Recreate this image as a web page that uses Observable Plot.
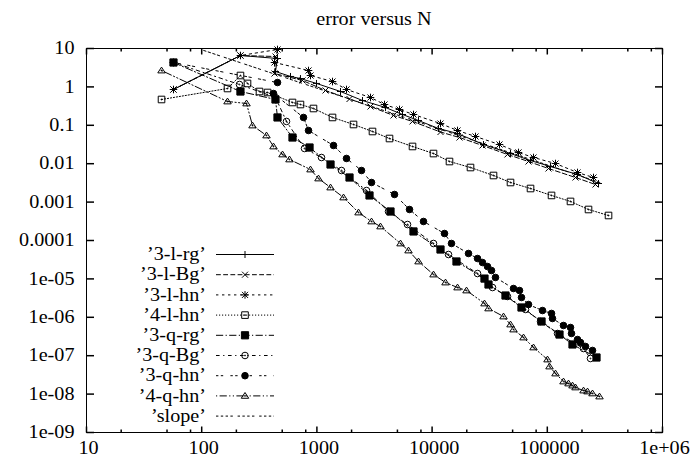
<!DOCTYPE html>
<html>
<head>
<meta charset="utf-8">
<script src="https://cdn.jsdelivr.net/npm/d3@7"></script>
<script src="https://cdn.jsdelivr.net/npm/@observablehq/plot@0.6"></script>
<style>
html,body{margin:0;padding:0;background:#fff;}
#chart svg{display:block;}
</style>
</head>
<body>
<div id="chart"></div>
<script>
// ---------------- data ----------------
const titleText = "error versus N";
const seriesNames = ["3-l-rg","3-l-Bg","3-l-hn","4-l-hn","3-q-rg","3-q-Bg","3-q-hn","4-q-hn","slope"];

const N_3lrg = [56.9, 217, 455, 437, 590, 720, 992, 1603, 2488, 3940, 5535, 7621, 11366, 16616, 27940, 47930, 71500, 106600, 182900, 278300];
const E_3lrg = [0.856, 6.57, 5.49, 2.52, 1.87, 1.65, 1.23, 0.759, 0.442, 0.291, 0.191, 0.133, 0.0825, 0.0612, 0.0316, 0.0184, 0.0121, 0.00845, 0.00523, 0.00305];

const N_3lBg = [56.9, 217, 437, 428.5, 750, 1188, 1919, 2920, 4623, 6760, 11828, 17288, 27380, 45120, 68680, 102400, 175700, 262100];
const E_3lBg = [0.856, 6.57, 6.19, 2.23, 1.47, 0.806, 0.484, 0.309, 0.180, 0.126, 0.0669, 0.0481, 0.0298, 0.0174, 0.0114, 0.0075, 0.00437, 0.00287];

const N_3lhn = [56.9, 217, 455, 428.5, 845.6, 880, 1366, 1807, 2920, 3862, 5212, 6896, 11828, 16616, 23810, 38470, 56230, 75890, 117800, 182900, 251800];
const E_3lhn = [0.856, 6.57, 9.42, 4.32, 2.67, 1.98, 1.38, 0.856, 0.530, 0.348, 0.258, 0.191, 0.111, 0.0732, 0.0511, 0.0316, 0.0196, 0.0145, 0.0101, 0.0059, 0.00437];

const N_4lhn = [44.8, 167.5, 217, 249.8, 317.5, 373, 614, 720, 934, 1366, 2079, 3038, 4268, 6760, 10285, 14158, 21544, 34120, 47930, 71500, 108800, 159000, 227900, 340000];
const E_4lhn = [0.470, 0.909, 1.98, 1.23, 0.759, 0.715, 0.393, 0.348, 0.274, 0.160, 0.105, 0.0690, 0.0453, 0.0281, 0.0184, 0.0114, 0.00796, 0.00493, 0.00324, 0.00226, 0.00149, 0.00104, 0.000642, 0.000448];

const N_3qrg = [56.9, 217, 437, 455, 614, 863, 1313, 1919, 2862, 4354, 6896, 11828, 16285, 28500, 30870, 43370, 59710, 89100, 127600, 165500, 267400];
const E_3qrg = [4.32, 0.759, 0.470, 0.160, 0.0481, 0.0264, 0.00953, 0.00437, 0.00149, 0.000569, 0.000172, 5.83e-5, 2.84e-5, 1.02e-5, 7.15e-6, 3.69e-6, 1.80e-6, 7.78e-7, 3.56e-7, 1.96e-7, 8.98e-8];

const N_3qBg = [56.9, 212.8, 437, 544.6, 780.6, 1096, 1635, 2696, 4183, 6117, 10285, 13880, 24790, 33450, 45120, 64700, 87340, 122600, 206200, 237100];
const E_3qBg = [4.32, 1.155, 0.530, 0.126, 0.0249, 0.0145, 0.00665, 0.002, 0.000569, 0.000261, 8.36e-5, 4.32e-5, 1.38e-5, 5.97e-6, 3.48e-6, 1.60e-6, 7.78e-7, 3.79e-7, 1.54e-7, 8.46e-8];

const N_3qhn = [56.9, 455, 420, 765, 846, 1394, 1807, 2439, 2979, 4717, 6366, 8420, 12812, 14734, 20700, 24790, 27380, 30260, 32780, 35500, 50880, 57370, 59710, 68680, 90860, 108800, 110900, 138200, 159000, 162200, 182900, 194200, 214600, 246800];
const E_3qhn = [4.32, 1.30, 0.673, 0.160, 0.0732, 0.0298, 0.0137, 0.00665, 0.00324, 0.00158, 0.000642, 0.000313, 0.000152, 8.36e-5, 4.59e-5, 3.40e-5, 2.67e-5, 2.10e-5, 1.65e-5, 1.09e-5, 5.62e-6, 4.99e-6, 3.28e-6, 2.15e-6, 1.50e-6, 1.26e-6, 9.31e-7, 6.12e-7, 5.43e-7, 3.79e-7, 2.64e-7, 2.21e-7, 1.74e-7, 1.37e-7];

const N_4qhn = [44.8, 167.5, 244.9, 276, 365, 420, 503, 578, 880, 1032, 1313, 1702, 2297, 2979, 3564, 5318, 6240, 7621, 10285, 13072, 16616, 19890, 28500, 30870, 41670, 47930, 50880, 62150, 75890, 100400, 104500, 117800, 138200, 152800, 165500, 175700, 206200, 223400, 246800, 283900];
const E_4qhn = [2.67, 0.417, 0.370, 0.0988, 0.0543, 0.0281, 0.0174, 0.0129, 0.00706, 0.00412, 0.0024, 0.00132, 0.000536, 0.000313, 0.000232, 8.36e-5, 5.49e-5, 2.84e-5, 1.30e-5, 8.06e-6, 5.97e-6, 4.99e-6, 2.29e-6, 1.70e-6, 1.05e-6, 6.49e-7, 4.81e-7, 2.98e-7, 1.64e-7, 7.96e-8, 5.23e-8, 3.44e-8, 2.13e-8, 1.89e-8, 1.67e-8, 1.49e-8, 1.24e-8, 1.17e-8, 1.04e-8, 8.66e-9];

const N_slope = [104, 290000];
const E_slope = [8.9, 0.0032];

const xTickValues = [10, 100, 1000, 10000, 100000, 1000000];
const xTickLabels = ["10", "100", "1000", "10000", "100000", "1e+06"];
const xMinorTicks = [20, 50, 80, 200, 500, 800, 2000, 5000, 8000, 20000, 50000, 80000, 200000, 500000, 800000];
const yTickValues = [1e-9, 1e-8, 1e-7, 1e-6, 1e-5, 1e-4, 1e-3, 1e-2, 1e-1, 1, 10];
const yTickLabels = ["1e-09", "1e-08", "1e-07", "1e-06", "1e-05", "0.0001", "0.001", "0.01", "0.1", "1", "10"];

// ---------------- styling ----------------
const W = 695, H = 468;
const FONT = "'Liberation Serif', 'Times New Roman', Times, serif";
const FS = 18;      // font size
const SX = 1.12;    // horizontal stretch of the text (reference text is slightly wide)

const mk = f => ({draw(c, size) { f(c, Math.sqrt(size / Math.PI)); }});
const centerDot = c => { c.moveTo(0.5, 0); c.arc(0, 0, 0.5, 0, 2 * Math.PI); };
const symPlus = mk((c, r) => { c.moveTo(-r, 0); c.lineTo(r, 0); c.moveTo(0, -r); c.lineTo(0, r); });
const symTimes = mk((c, r) => { c.moveTo(-r, -r); c.lineTo(r, r); c.moveTo(-r, r); c.lineTo(r, -r); });
const symStar = mk((c, r) => {
  c.moveTo(-r, 0); c.lineTo(r, 0); c.moveTo(0, -r); c.lineTo(0, r);
  const q = r * 0.8; c.moveTo(-q, -q); c.lineTo(q, q); c.moveTo(-q, q); c.lineTo(q, -q);
});
const symBox = mk((c, r) => { c.rect(-r, -r, 2 * r, 2 * r); centerDot(c); });
const symBoxF = mk((c, r) => { c.rect(-r, -r, 2 * r, 2 * r); });
const symCirc = mk((c, r) => { c.moveTo(r, 0); c.arc(0, 0, r, 0, 2 * Math.PI); centerDot(c); });
const symCircF = mk((c, r) => { c.moveTo(r, 0); c.arc(0, 0, r, 0, 2 * Math.PI); });
const symTri = mk((c, r) => { c.moveTo(0, -r); c.lineTo(r * 1.1, r * 0.7); c.lineTo(-r * 1.1, r * 0.7); c.closePath(); centerDot(c); });

const tickSym = (dx, dy) => ({draw(c) { c.moveTo(0, 0); c.lineTo(dx, dy); }});

const dl = 1.2;
const dash = a => a ? a.map(v => v * dl).join(",") : null;

const seriesData = [
  {N: N_3lrg, E: E_3lrg, dash: null,                    sym: symPlus,  r: 3.5, fill: "none"},
  {N: N_3lBg, E: E_3lBg, dash: dash([4, 2]),            sym: symTimes, r: 3.0, fill: "none"},
  {N: N_3lhn, E: E_3lhn, dash: dash([2, 3]),            sym: symStar,  r: 3.8, fill: "none"},
  {N: N_4lhn, E: E_4lhn, dash: dash([1, 1.5]),          sym: symBox,   r: 3.3, fill: "none"},
  {N: N_3qrg, E: E_3qrg, dash: dash([6, 2, 1, 2]),      sym: symBoxF,  r: 3.6, fill: "black"},
  {N: N_3qBg, E: E_3qBg, dash: dash([3, 3, 1, 3]),      sym: symCirc,  r: 3.3, fill: "none"},
  {N: N_3qhn, E: E_3qhn, dash: dash([2, 2, 2, 6]),      sym: symCircF, r: 3.3, fill: "black"},
  {N: N_4qhn, E: E_4qhn, dash: dash([1, 2, 6, 2, 1, 2]), sym: symTri,  r: 3.4, fill: "none"},
  {N: N_slope, E: E_slope, dash: dash([2, 2, 2, 2, 2, 2, 2, 4]), sym: null, r: 0, fill: "none"}
].map((s, i) => ({...s, name: seriesNames[i], rows: s.N.map((n, j) => ({N: n, E: s.E[j]}))}));

const seriesMarks = seriesData.flatMap(s => {
  const m = [Plot.line(s.rows, {x: "N", y: "E", stroke: "black", strokeWidth: 1, strokeDasharray: s.dash || undefined})];
  if (s.sym) m.push(Plot.dot(s.rows, {x: "N", y: "E", symbol: s.sym, r: s.r, stroke: "black", strokeWidth: 1, fill: s.fill}));
  return m;
});

const plot = Plot.plot({
  width: W,
  height: H,
  marginLeft: 86,
  marginRight: 33,
  marginTop: 48,
  marginBottom: 36,
  style: {fontFamily: FONT, background: "white", color: "black"},
  x: {type: "log", domain: [10, 1e6], axis: null},
  y: {type: "log", domain: [1e-9, 10], axis: null},
  marks: [
    // inward ticks (gnuplot style)
    Plot.dot(xTickValues, {x: d => d, frameAnchor: "bottom", symbol: tickSym(0, -6), stroke: "black"}),
    Plot.dot(xTickValues, {x: d => d, frameAnchor: "top", symbol: tickSym(0, 6), stroke: "black"}),
    Plot.dot(xMinorTicks, {x: d => d, frameAnchor: "bottom", symbol: tickSym(0, -3), stroke: "black"}),
    Plot.dot(xMinorTicks, {x: d => d, frameAnchor: "top", symbol: tickSym(0, 3), stroke: "black"}),
    Plot.dot(yTickValues, {y: d => d, frameAnchor: "left", symbol: tickSym(7.5, 0), stroke: "black"}),
    Plot.dot(yTickValues, {y: d => d, frameAnchor: "right", symbol: tickSym(-7.5, 0), stroke: "black"}),
    // tick labels
    Plot.text(xTickValues, {x: d => d, text: (d, i) => xTickLabels[i], frameAnchor: "bottom", dy: 21, dx: 2, fontSize: FS, fill: "black"}),
    Plot.text(yTickValues, {y: d => d, text: (d, i) => yTickLabels[i], frameAnchor: "left", dx: -12, textAnchor: "end", fontSize: FS, fill: "black"}),
    ...seriesMarks,
    Plot.frame({stroke: "black", strokeWidth: 1})
  ]
});

const svg = d3.select(plot);

// title
svg.append("text")
  .attr("x", 374).attr("y", 25)
  .attr("text-anchor", "middle")
  .attr("font-size", FS)
  .attr("fill", "black")
  .text(titleText);

// legend (inside the plot, gnuplot style: label, sample line, marker)
const lg = svg.append("g");
seriesData.forEach((s, i) => {
  const y = 254.5 + i * 20.2;
  lg.append("text")
    .attr("x", 206).attr("y", y).attr("dy", "0.32em")
    .attr("text-anchor", "end")
    .attr("font-size", FS)
    .attr("fill", "black")
    .text("\u2019" + s.name + "\u2019");
  const ln = lg.append("line")
    .attr("x1", 216).attr("x2", 274).attr("y1", y).attr("y2", y)
    .attr("stroke", "black").attr("stroke-width", 1);
  if (s.dash) ln.attr("stroke-dasharray", s.dash);
  if (s.sym) {
    lg.append("path")
      .attr("transform", `translate(245,${y})`)
      .attr("d", d3.symbol(s.sym, s.r * s.r * Math.PI)())
      .attr("stroke", "black").attr("stroke-width", 1)
      .attr("fill", s.fill);
  }
});

document.getElementById("chart").appendChild(plot);

// widen every text horizontally while keeping its anchor point in place
plot.querySelectorAll("text").forEach(t => {
  const anchor = getComputedStyle(t).textAnchor;
  const pick = r => anchor === "end" ? r.right : anchor === "middle" ? (r.left + r.right) / 2 : r.left;
  const a0 = pick(t.getBoundingClientRect());
  const g = document.createElementNS("http://www.w3.org/2000/svg", "g");
  t.parentNode.insertBefore(g, t);
  g.appendChild(t);
  g.setAttribute("transform", `scale(${SX},1)`);
  const a1 = pick(t.getBoundingClientRect());
  g.setAttribute("transform", `translate(${a0 - a1},0) scale(${SX},1)`);
});
</script>
</body>
</html>
